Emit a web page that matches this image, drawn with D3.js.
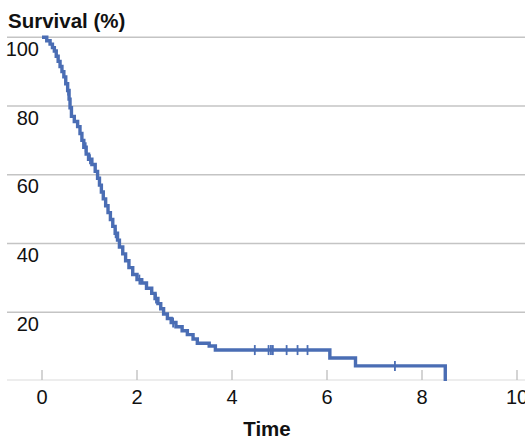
<!DOCTYPE html>
<html>
<head>
<meta charset="utf-8">
<script src="https://cdn.jsdelivr.net/npm/d3@7"></script>
<style>
  body { margin: 0; background: #fff; }
  text { font-family: "Liberation Sans", Arial, sans-serif; fill: #111; }
</style>
</head>
<body>
<svg width="525" height="439"></svg>
<script>
// Kaplan-Meier steps
var eventTimes = [0.10, 0.17, 0.22, 0.26, 0.30, 0.34, 0.38, 0.42, 0.46, 0.50,
  0.54, 0.57, 0.59, 0.62, 0.68, 0.75, 0.80, 0.84, 0.88, 0.93,
  0.98, 1.05, 1.12, 1.17, 1.21, 1.25, 1.29, 1.34, 1.39, 1.44,
  1.49, 1.54, 1.59, 1.63, 1.70, 1.76, 1.83, 1.91, 2.00, 2.10,
  2.20, 2.31, 2.38, 2.44, 2.50, 2.56, 2.64, 2.72, 2.82, 2.95,
  3.06, 3.18, 3.27, 3.52, 3.65, 6.06, 6.60, 8.49];
var survival = [99, 98, 97, 96, 94.5, 93, 91.5, 90, 88.5, 86.5,
  84.5, 82, 79.5, 77, 75.5, 74, 72, 70, 68, 66,
  64.5, 63, 61, 59, 57, 55, 53, 51, 49, 47,
  45, 43, 41, 39, 37, 35, 33, 31, 29.5, 28.5,
  27, 25.5, 24, 22.5, 21, 19.5, 18.2, 17, 15.8, 14.6,
  13.5, 12.2, 11, 10.2, 9.0, 6.7, 4.4, 0];
var censorTimes = [0.55, 0.92, 1.01, 1.55, 2.05, 2.40, 2.76, 4.48, 4.77, 4.82, 4.86, 5.15, 5.38, 5.59, 7.43];
var xTicks = [0, 2, 4, 6, 8, 10];
var yTicks = [20, 40, 60, 80, 100];

var blue = "#4a6db4";
var svg = d3.select("svg");

var x = d3.scaleLinear().domain([0, 10]).range([42, 517]);
var y = d3.scaleLinear().domain([0, 100]).range([381, 37.3]);

// step series
var pts = [[0, 100]];
eventTimes.forEach(function(t, i) { pts.push([t, survival[i]]); });

function survAt(t) {
  var s = 100;
  for (var i = 0; i < eventTimes.length; i++) {
    if (eventTimes[i] <= t) s = survival[i];
  }
  return s;
}

// grid lines
svg.append("g").selectAll("line")
  .data(yTicks)
  .enter().append("line")
  .attr("x1", 7).attr("x2", 525)
  .attr("y1", function(d) { return y(d); })
  .attr("y2", function(d) { return y(d); })
  .attr("stroke", "#c4c4c4")
  .attr("stroke-width", 1.6);

// baseline
svg.append("line")
  .attr("x1", 7).attr("x2", 525)
  .attr("y1", 380).attr("y2", 380)
  .attr("stroke", "#dcdcdc").attr("stroke-width", 1.2);

// x ticks
svg.append("g").selectAll("line")
  .data(xTicks)
  .enter().append("line")
  .attr("x1", function(d) { return x(d); })
  .attr("x2", function(d) { return x(d); })
  .attr("y1", 370).attr("y2", 380)
  .attr("stroke", "#b8b8b8").attr("stroke-width", 1.2);

svg.append("g").selectAll("text")
  .data(xTicks)
  .enter().append("text")
  .attr("x", function(d) { return x(d); })
  .attr("y", 404)
  .attr("text-anchor", "middle")
  .style("font-size", "20px")
  .text(function(d) { return d; });

svg.append("g").selectAll("text")
  .data(yTicks)
  .enter().append("text")
  .attr("x", 39)
  .attr("y", function(d) { return y(d) + 18.5; })
  .attr("text-anchor", "end")
  .style("font-size", "20px")
  .text(function(d) { return d; });

svg.append("text")
  .attr("x", 8).attr("y", 28)
  .style("font-size", "20.5px").style("font-weight", "bold")
  .text("Survival (%)");

svg.append("text")
  .attr("x", 267).attr("y", 436)
  .attr("text-anchor", "middle")
  .style("font-size", "20.5px").style("font-weight", "bold")
  .text("Time");

// curve
var line = d3.line()
  .x(function(d) { return x(d[0]); })
  .y(function(d) { return y(d[1]); })
  .curve(d3.curveStepAfter);

svg.append("path")
  .datum(pts)
  .attr("d", line)
  .attr("fill", "none")
  .attr("stroke", blue)
  .attr("stroke-width", 3.4);

// censor marks
svg.append("g").selectAll("line")
  .data(censorTimes)
  .enter().append("line")
  .attr("x1", function(d) { return x(d); })
  .attr("x2", function(d) { return x(d); })
  .attr("y1", function(d) { return y(survAt(d)) - 5; })
  .attr("y2", function(d) { return y(survAt(d)) + 5; })
  .attr("stroke", blue)
  .attr("stroke-width", 1.8);
</script>
</body>
</html>
